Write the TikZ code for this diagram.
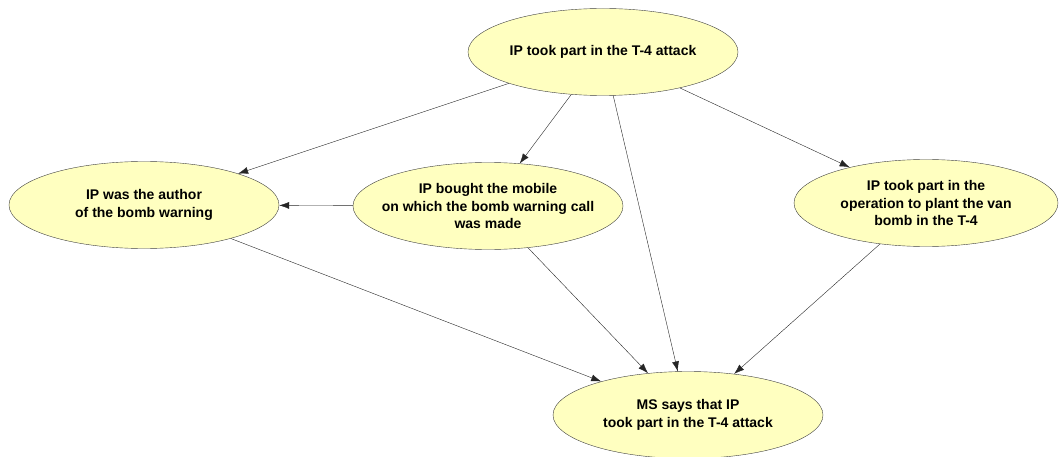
\documentclass[tikz,border=0pt]{standalone}
\usepackage{fontspec}
\setmainfont{Liberation Sans}
\usetikzlibrary{shapes.geometric,arrows.meta}
\definecolor{claimyellow}{RGB}{255,255,192}

\begin{document}
\begin{tikzpicture}[x=1pt,y=-1pt]
    \tikzset{claim/.style={ellipse, draw=black!75, fill=claimyellow, minimum width=270pt, minimum height=87pt, inner sep=0pt, align=center, font=\fontsize{14}{17.5}\selectfont\bfseries},
             support/.style={-{Latex[length=10pt,width=7pt]}, black!85}}
    \useasboundingbox (0,0) rectangle (1059,457);
    \node (attack) at (603,52) [claim] {IP took part in the T-4 attack};
    \node (author) at (144,205) [claim] {IP was the author\\of the bomb warning};
    \node (mobile) at (488,206) [claim, inner xsep=-14pt] {IP bought the mobile\\on which the bomb warning call\\was made};
    \node (vanbomb) at (926,203) [claim, minimum width=264pt] {IP took part in the\\operation to plant the van\\bomb in the T-4};
    \node (ms) at (688,415) [claim] {MS says that IP\\took part in the T-4 attack};
    \draw[support] (attack) -- (author);
    \draw[support] (attack) -- (mobile);
    \draw[support] (attack) -- (ms);
    \draw[support] (attack) -- (vanbomb);
    \draw[support] (mobile) -- (author);
    \draw[support] (author) -- (ms);
    \draw[support] (mobile) -- (ms);
    \draw[support] (vanbomb) -- (ms);
\end{tikzpicture}
\end{document}
